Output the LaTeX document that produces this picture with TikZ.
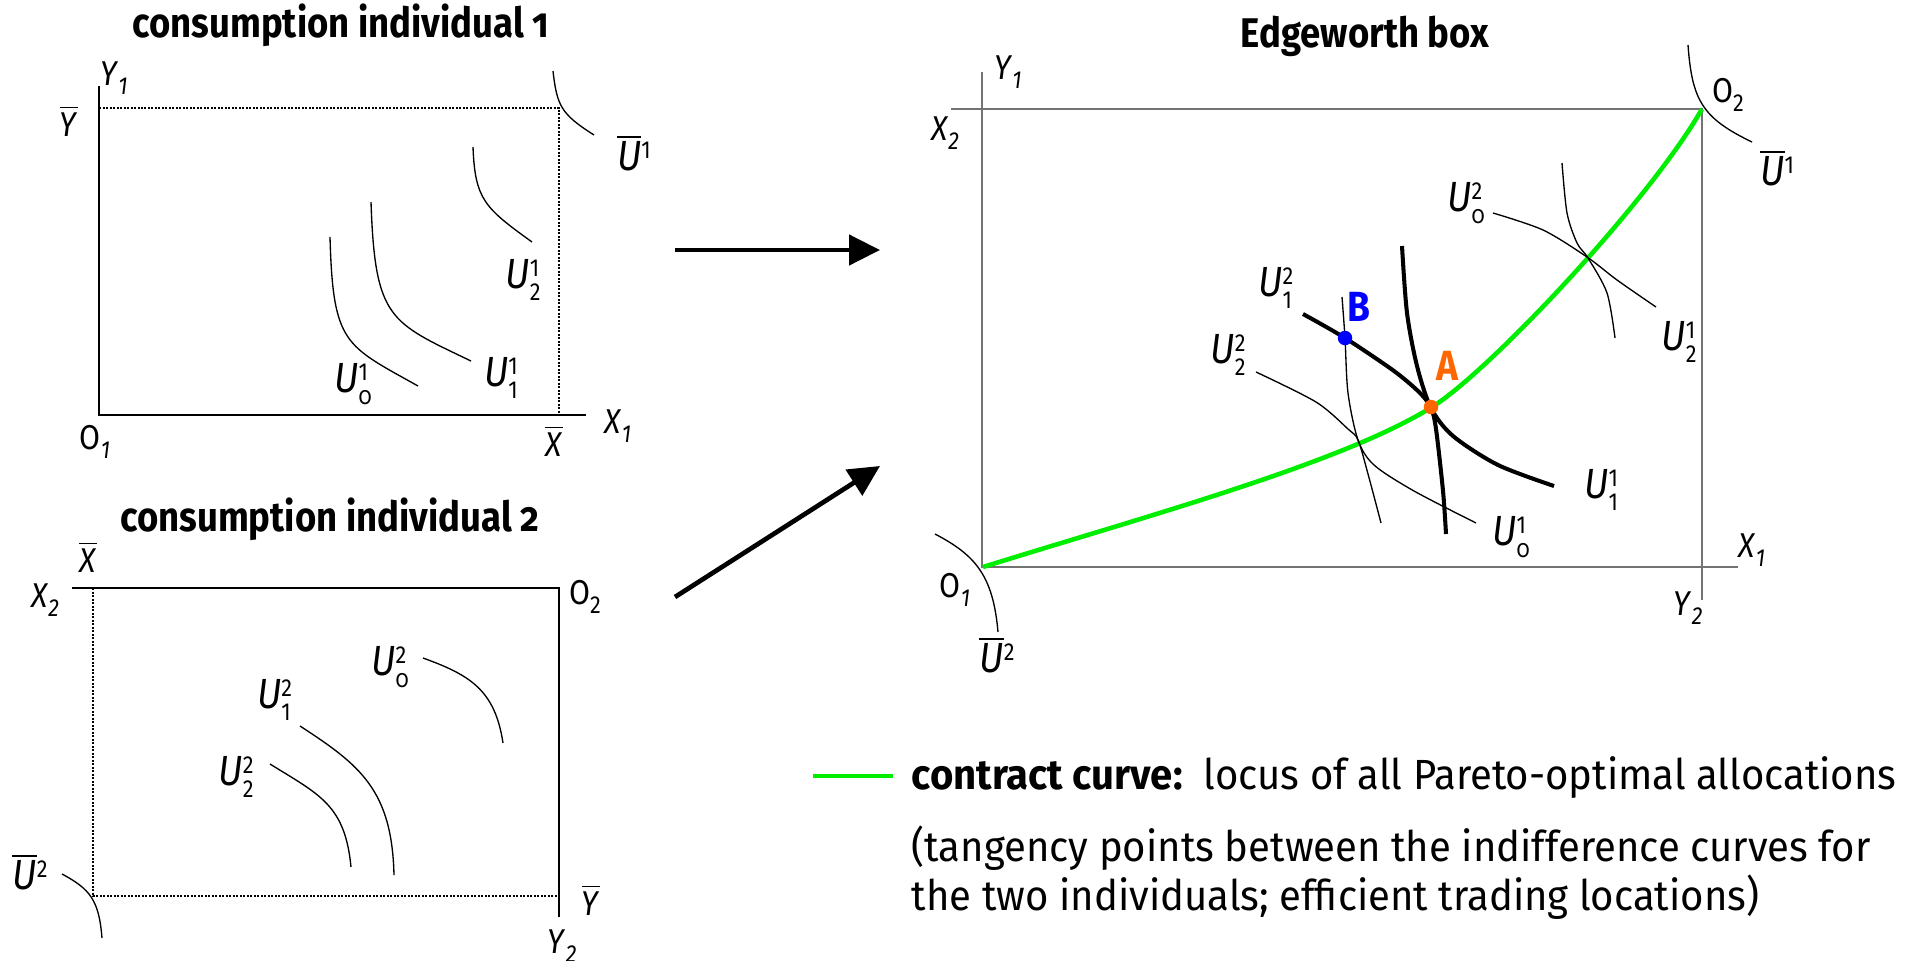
\documentclass[tikz,border=0pt]{standalone}
\usepackage{fontspec}
\setmainfont{Fira Sans}[FakeStretch=0.88]
\newfontfamily\legfont{Fira Sans}[FakeStretch=0.95]
\usetikzlibrary{arrows.meta}
\definecolor{ccgreen}{RGB}{0,238,0}
\definecolor{ptorange}{RGB}{255,102,0}
\definecolor{ptblue}{RGB}{0,0,255}
\newcommand{\onum}{\addfontfeatures{Numbers=OldStyle}}
\newcommand{\scfont}{\fontsize{7}{8}\selectfont}
\newcommand{\ulab}[3]{\textit{#1}\rlap{\raisebox{0.55ex}{\scfont #3}}\raisebox{-0.55ex}{\scfont #2}}
\newcommand{\axlab}[2]{\textit{#1}\raisebox{-0.5ex}{\scfont\textit{#2}}}
\newcommand{\barlab}[1]{$\overline{\mbox{\textit{#1}}}$}
\tikzset{
  lbl/.style={inner sep=0pt, font=\fontsize{9.8}{10}\selectfont},
  ulbl/.style={inner sep=0pt, font=\fontsize{12}{13}\selectfont},
  ttl/.style={inner sep=0pt, anchor=base, font=\bfseries\fontsize{11.8}{14}\selectfont},
  legtxt/.style={inner sep=0pt, anchor=base west, font=\legfont\fontsize{12}{14}\selectfont},
  icurve/.style={line width=0.38pt},
  boldcurve/.style={line width=1.15pt},
  axline/.style={line width=0.42pt},
  boxline/.style={draw=black!55, line width=0.6pt},
  dotline/.style={line width=0.3pt, dash pattern=on 0.2mm off 0.15mm},
  bigarrow/.style={line width=1.33pt, -{Triangle[length=3.1mm,width=3mm]}},
  contract/.style={draw=ccgreen, line width=1.3pt},
  ptdot/.style={circle, inner sep=0pt, minimum size=1.45mm},
}
\begin{document}
\begin{tikzpicture}[x=0.1mm, y=-0.1mm]
\useasboundingbox (0,0) rectangle (1921,960);
% individual 1
\node[ttl] (t1) at (341,37) {consumption individual {\onum 1}};
\draw[axline] (99,86) -- (99,415) -- (586,415);
\draw[dotline] (99,108) -- (559,108) -- (559,415);
\draw[icurve] (553,71) .. controls (557,106) and (561,114) .. (594,135);
\draw[icurve] (473,147) .. controls (475,200) and (485,208) .. (532,242);
\draw[icurve] (371,202) .. controls (375,320) and (390,322) .. (471,361);
\draw[icurve] (330,237) .. controls (333,345) and (345,345) .. (418,386);
\node[lbl] (a1y) at (114,78) {\axlab{Y}{1}};
\node[lbl] (a1yb) at (69,121) {\barlab{Y}};
\node[lbl] (a1o) at (95,442) {O\raisebox{-0.5ex}{\scfont\textit{1}}};
\node[lbl] (a1xb) at (554,441) {\barlab{X}};
\node[lbl] (a1x) at (618,426) {\axlab{X}{1}};
\node[ulbl] (a1ub) at (634,153) {\barlab{U}\raisebox{0.55ex}{\scfont 1}};
\node[ulbl] (a1u2) at (523,280) {\ulab{U}{2}{1}};
\node[ulbl] (a1u1) at (501,378) {\ulab{U}{1}{1}};
\node[ulbl] (a1u0) at (353,384) {\ulab{U}{\onum 0}{1}};
% individual 2
\node[ttl] (t2) at (330,531) {consumption individual {\onum 2}};
\draw[axline] (72,588) -- (559,588) -- (559,917);
\draw[dotline] (93,588) -- (93,896) -- (560,896);
\draw[icurve] (62,874) .. controls (90,889) and (99,900) .. (102,938);
\draw[icurve] (423,658) .. controls (470,675) and (495,690) .. (503,743);
\draw[icurve] (300,726) .. controls (360,765) and (392,790) .. (394,875);
\draw[icurve] (270,764) .. controls (320,795) and (345,805) .. (351,867);
\node[lbl] (a2xb) at (88,557) {\barlab{X}};
\node[lbl] (a2x) at (45,600) {\axlab{X}{2}};
\node[lbl] (a2o) at (585,597) {O\raisebox{-0.5ex}{\scfont 2}};
\node[ulbl] (a2ub) at (30,872) {\barlab{U}\raisebox{0.55ex}{\scfont 2}};
\node[lbl] (a2yb) at (591,900) {\barlab{Y}};
\node[lbl] (a2y) at (562,946) {\axlab{Y}{2}};
\node[ulbl] (a2u0) at (390,667) {\ulab{U}{\onum 0}{2}};
\node[ulbl] (a2u1) at (274,700) {\ulab{U}{1}{2}};
\node[ulbl] (a2u2) at (236,777) {\ulab{U}{2}{2}};
% arrows
\coordinate (r1s) at (675,250);
\coordinate (r1e) at (880,250);
\coordinate (r2s) at (675,597);
\coordinate (r2e) at (880,466);
\draw[bigarrow] (r1s) -- (r1e);
\draw[bigarrow] (r2s) -- (r2e);
% Edgeworth box
\node[ttl] (t3) at (1365,47) {Edgeworth box};
\draw[boxline] (982,72) -- (982,567) -- (1738,567);
\draw[boxline] (951,109) -- (1702,109) -- (1702,600);
\draw[icurve] (1688,45) .. controls (1692,100) and (1702,118) .. (1752,142);
\draw[icurve] (935,534) .. controls (975,555) and (993,575) .. (998,632);
\draw[contract] (983,567) .. controls (1150,515) and (1342,463) .. (1432,407) .. controls (1490,371) and (1650,200) .. (1702,109);
\draw[icurve] plot[smooth] coordinates {(1342,297) (1345,338) (1348,393) (1358,440) (1374,465) (1414,491) (1476,523)};
\draw[icurve] plot[smooth] coordinates {(1256,372) (1316,402) (1348,429) (1358,440) (1368,474) (1381,523)};
\draw[icurve] plot[smooth] coordinates {(1493,213) (1543,230) (1587,257) (1617,280) (1656,307)};
\draw[icurve] plot[smooth] coordinates {(1562,163) (1567,213) (1577,243) (1588,258) (1607,293) (1615,338)};
\draw[boldcurve] plot[smooth] coordinates {(1303,314) (1345,338) (1394,371) (1420,393) (1431,408) (1436,429) (1443,491) (1446,534)};
\draw[boldcurve] plot[smooth] coordinates {(1402,246) (1407,313) (1417,366) (1431,408) (1453,436) (1498,465) (1554,486)};
\node[ptdot, fill=ptblue] (B) at (1345,338) {};
\node[ptdot, fill=ptorange] (A) at (1431,407) {};
\node[inner sep=0pt, text=ptblue, font=\bfseries\fontsize{12}{13}\selectfont] (Blab) at (1359,307) {B};
\node[inner sep=0pt, text=ptorange, font=\bfseries\fontsize{12}{13}\selectfont] (Alab) at (1447,366) {A};
\node[lbl] (a3y1) at (1008,72) {\axlab{Y}{1}};
\node[lbl] (a3x2) at (945,133) {\axlab{X}{2}};
\node[lbl] (a3o2) at (1728,95) {O\raisebox{-0.5ex}{\scfont 2}};
\node[ulbl] (a3ub1) at (1777,168) {\barlab{U}\raisebox{0.55ex}{\scfont 1}};
\node[lbl] (a3o1) at (955,590) {O\raisebox{-0.5ex}{\scfont\textit{1}}};
\node[ulbl] (a3ub2) at (997,655) {\barlab{U}\raisebox{0.55ex}{\scfont 2}};
\node[lbl] (a3x1) at (1752,550) {\axlab{X}{1}};
\node[lbl] (a3y2) at (1688,608) {\axlab{Y}{2}};
\node[ulbl] (a3u12) at (1275,288) {\ulab{U}{1}{2}};
\node[ulbl] (a3u22) at (1228,355) {\ulab{U}{2}{2}};
\node[ulbl] (a3u02) at (1466,203) {\ulab{U}{\onum 0}{2}};
\node[ulbl] (a3u21) at (1679,342) {\ulab{U}{2}{1}};
\node[ulbl] (a3u11) at (1601,490) {\ulab{U}{1}{1}};
\node[ulbl] (a3u01) at (1511,537) {\ulab{U}{\onum 0}{1}};
% legend
\coordinate (g1) at (813,776);
\coordinate (g2) at (893,776);
\draw[contract] (g1) -- (g2);
\node[legtxt] (l1) at (911,789) {\textbf{contract curve:}\ \ locus of all Pareto-optimal allocations};
\node[legtxt] (l2) at (911,861) {(tangency points between the indifference curves for};
\node[legtxt] (l3) at (911,910) {the two individuals; efficient trading locations)};
\end{tikzpicture}
\end{document}
